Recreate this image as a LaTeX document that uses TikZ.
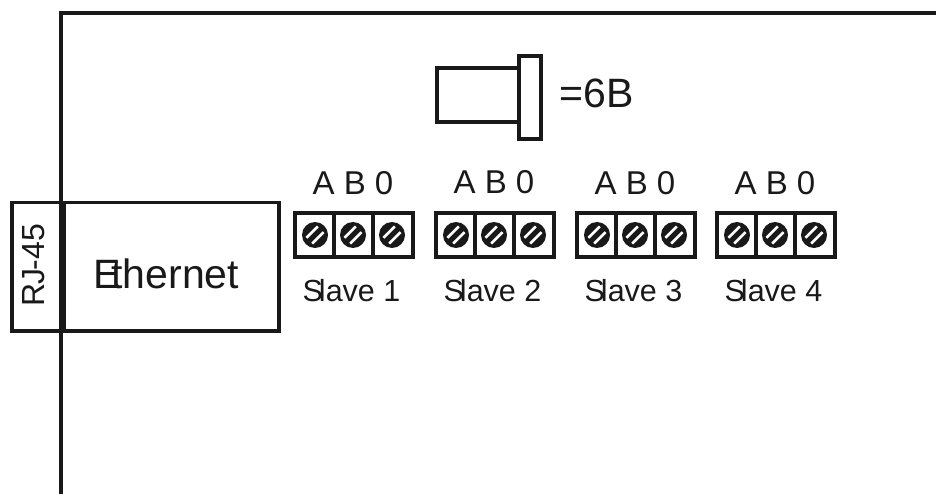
\documentclass[tikz,border=0pt]{standalone}
\usepackage{fontspec}
\setmainfont{Liberation Sans}
\usepackage{xcolor}
\usetikzlibrary{positioning}

\tikzset{
  wall/.style={line width=4.5pt,black!90},
  box/.style={line width=3.5pt,black!90},
  block/.style={line width=4pt,black!90},
  label/.style={inner sep=0pt,black!90},
  screw/.pic={
    \draw [fill=black!90,draw=none] (0,0) circle [radius=13];
    \draw [white,line width=2.6pt] (-8.5,2.8) -- (2.8,-8.5);
    \draw [white,line width=2.6pt] (-2.8,8.5) -- (8.5,-2.8);
  }
}

\begin{document}
\begin{tikzpicture}[x=1pt,y=-1pt]
\useasboundingbox (0,0) rectangle (936,494);

% housing
\draw [wall] (61,494) -- (61,13) -- (936,13);

% ethernet port
\draw [box] (12,202.5) rectangle (279,331);
\draw [line width=6.5pt,black!90] (62.5,202.5) -- (62.5,331);
\node [label,rotate=90] (rj) at (34,265) {\fontsize{32}{32}\selectfont R\kern-1.5pt J\kern-1.5pt-45};
\node [label] (eth) at (166,274) {\fontsize{41}{41}\selectfont E\kern-9pt thernet};

% plug
\draw [block] (437,68) rectangle (519,122);
\draw [block,fill=white] (519,56) rectangle (541,139);
\node [label] (plug) at (597,93) {\fontsize{41}{41}\selectfont =6B};

% slave 1
\node [label] (abc1) at (353,183) {\fontsize{33}{33}\selectfont A B 0};
\draw [block] (295,213.5) rectangle (413,257);
\draw [block] (333.5,213.5) -- (333.5,257);
\draw [block] (373,213.5) -- (373,257);
\pic at (315,235) {screw};
\pic at (353,235) {screw};
\pic at (392,235) {screw};
\node [label] (slave1) at (351.5,291) {\fontsize{30.5}{30.5}\selectfont S\kern-4pt lave 1};

% slave 2
\node [label] (abc2) at (494,182) {\fontsize{33}{33}\selectfont A B 0};
\draw [block] (436,213.5) rectangle (554,257);
\draw [block] (474.5,213.5) -- (474.5,257);
\draw [block] (514,213.5) -- (514,257);
\pic at (456,235) {screw};
\pic at (494,235) {screw};
\pic at (533,235) {screw};
\node [label] (slave2) at (492.5,291) {\fontsize{30.5}{30.5}\selectfont S\kern-4pt lave 2};

% slave 3
\node [label] (abc3) at (635,183) {\fontsize{33}{33}\selectfont A B 0};
\draw [block] (577,213.5) rectangle (695,257);
\draw [block] (615.5,213.5) -- (615.5,257);
\draw [block] (655,213.5) -- (655,257);
\pic at (597,235) {screw};
\pic at (635,235) {screw};
\pic at (674,235) {screw};
\node [label] (slave3) at (633.5,291) {\fontsize{30.5}{30.5}\selectfont S\kern-4pt lave 3};

% slave 4
\node [label] (abc4) at (775,183) {\fontsize{33}{33}\selectfont A B 0};
\draw [block] (717,213.5) rectangle (835,257);
\draw [block] (755.5,213.5) -- (755.5,257);
\draw [block] (795,213.5) -- (795,257);
\pic at (737,235) {screw};
\pic at (775,235) {screw};
\pic at (814,235) {screw};
\node [label] (slave4) at (773.5,291) {\fontsize{30.5}{30.5}\selectfont S\kern-4pt lave 4};
\end{tikzpicture}
\end{document}
